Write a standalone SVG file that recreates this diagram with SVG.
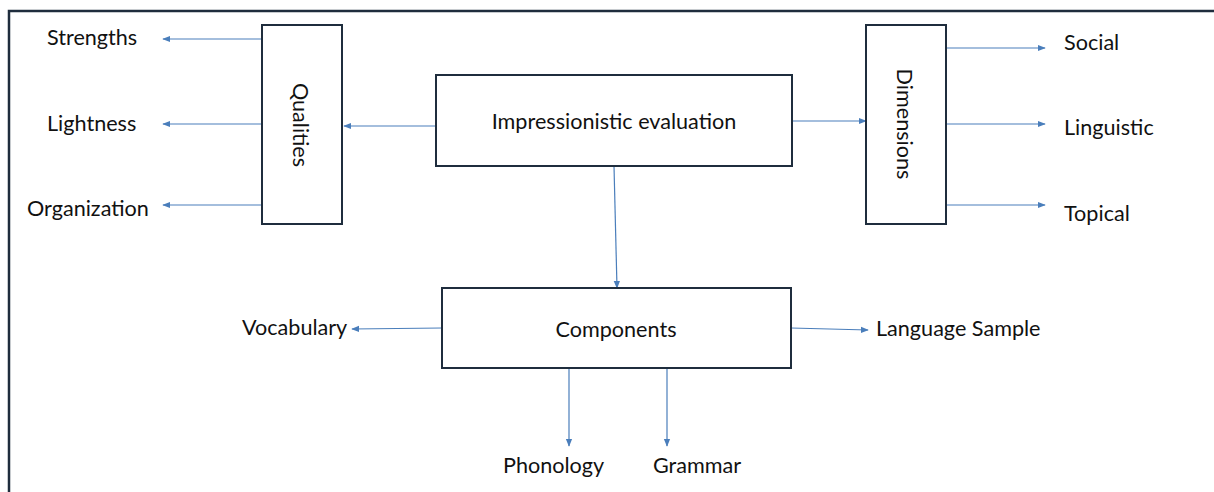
<svg xmlns="http://www.w3.org/2000/svg" width="1214" height="492" viewBox="0 0 1214 492">
<defs>
<marker id="ah" viewBox="0 0 10 10" refX="9" refY="5" markerWidth="8" markerHeight="8" markerUnits="userSpaceOnUse" orient="auto">
<path d="M0,1 L10,5 L0,9 z" fill="#4a7ebb"/>
</marker>
<style>
.box{fill:#fff;stroke:#1f2d3d;stroke-width:2}
.c{stroke:#4a7ebb;stroke-width:1.2;fill:none;marker-end:url(#ah)}
text{font-family:Lato,"Open Sans",sans-serif;font-size:21.6px;fill:#111}
.m{text-anchor:middle}
</style>
</defs>
<rect width="1214" height="492" fill="#fff"/>
<path d="M9,492 V11 H1214" fill="none" stroke="#1f2d3d" stroke-width="2.5"/>
<g id="connectors">
<line class="c" x1="262" y1="39" x2="163" y2="39"/>
<line class="c" x1="262" y1="124" x2="163" y2="124"/>
<line class="c" x1="262" y1="205" x2="163" y2="205"/>
<line class="c" x1="436" y1="126" x2="344" y2="126"/>
<line class="c" x1="792" y1="121" x2="866" y2="121"/>
<line class="c" x1="946" y1="48" x2="1045" y2="48"/>
<line class="c" x1="946" y1="124" x2="1045" y2="124"/>
<line class="c" x1="946" y1="205" x2="1045" y2="205"/>
<line class="c" x1="614" y1="166" x2="617" y2="288"/>
<line class="c" x1="442" y1="328" x2="352" y2="329"/>
<line class="c" x1="791" y1="328" x2="868" y2="330"/>
<line class="c" x1="569" y1="368" x2="569" y2="446"/>
<line class="c" x1="667" y1="368" x2="667" y2="446"/>
</g>
<g id="qualities">
<rect class="box" x="262" y="25" width="80" height="199"/>
<text class="m" transform="translate(293,125) rotate(90)">Qualities</text>
</g>
<g id="dimensions">
<rect class="box" x="866" y="25" width="80" height="199"/>
<text class="m" transform="translate(897,124) rotate(90)">Dimensions</text>
</g>
<g id="impressionistic">
<rect class="box" x="436" y="75" width="356" height="91"/>
<text class="m" x="614" y="129">Impressionistic evaluation</text>
</g>
<g id="components">
<rect class="box" x="442" y="288" width="349" height="80"/>
<text class="m" x="616" y="337">Components</text>
</g>
<g id="strengths"><text x="47" y="45">Strengths</text></g>
<g id="lightness"><text x="47" y="131">Lightness</text></g>
<g id="organization"><text x="27" y="216">Organization</text></g>
<g id="social"><text x="1064" y="50">Social</text></g>
<g id="linguistic"><text x="1064" y="135">Linguistic</text></g>
<g id="topical"><text x="1064" y="221">Topical</text></g>
<g id="vocabulary"><text x="242" y="335">Vocabulary</text></g>
<g id="language-sample"><text x="876" y="336">Language Sample</text></g>
<g id="phonology"><text x="503" y="473">Phonology</text></g>
<g id="grammar"><text x="653" y="473">Grammar</text></g>
</svg>
